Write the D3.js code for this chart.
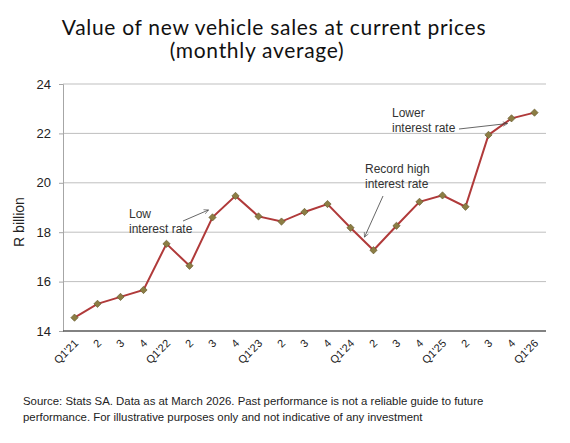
<!DOCTYPE html>
<html>
<head>
<meta charset="utf-8">
<script src="https://cdn.jsdelivr.net/npm/d3@7"></script>
<style>
  body { margin: 0; background: #fff; }
</style>
</head>
<body>
<svg id="chart"></svg>
<script>
// quarters shown on the x axis
const quarters = ["Q1'21", "2", "3", "4", "Q1'22", "2", "3", "4", "Q1'23", "2", "3", "4",
    "Q1'24", "2", "3", "4", "Q1'25", "2", "3", "4", "Q1'26"];
// monthly average sales value, R billion
const salesValue = [14.54, 15.10, 15.38, 15.66, 17.53, 16.64, 18.60, 19.47, 18.64, 18.43, 18.82, 19.14,
    18.18, 17.27, 18.26, 19.23, 19.49, 19.03, 21.94, 22.61, 22.84];
const yTicks = [14, 16, 18, 20, 22, 24];

// annotations: text lines, and the point each arrow points at
const notes = [
    {lines: ['Low', 'interest rate'], idx: 6, val: 18.9, tx: 129, ty: 218, ax: 183, ay: 221, dx: -4},
    {lines: ['Record high', 'interest rate'], idx: 13, val: 17.8, tx: 365, ty: 173, ax: 383, ay: 196, dx: -9},
    {lines: ['Lower', 'interest rate'], idx: 19, val: 22.4, tx: 392, ty: 117, ax: 459, ay: 129, dx: -4}
];

const width = 570, height = 443;
const margin = {top: 84, right: 24, bottom: 112, left: 63};

const svg = d3.select('#chart')
    .attr('width', width)
    .attr('height', height)
    .attr('font-family', 'Liberation Sans, Arial, sans-serif');

const x = d3.scalePoint()
    .domain(d3.range(quarters.length))
    .range([margin.left, width - margin.right])
    .padding(0.5);

const y = d3.scaleLinear()
    .domain([14, 24])
    .range([height - margin.bottom, margin.top]);

// title, two separate lines
svg.append('text')
    .attr('x', 274).attr('y', 35)
    .attr('text-anchor', 'middle')
    .attr('font-family', 'Lato, sans-serif')
    .attr('font-size', '21px')
    .attr('letter-spacing', '0.7px')
    .attr('fill', '#111')
    .text('Value of new vehicle sales at current prices');
svg.append('text')
    .attr('x', 257).attr('y', 58)
    .attr('text-anchor', 'middle')
    .attr('font-family', 'Lato, sans-serif')
    .attr('font-size', '21px')
    .attr('letter-spacing', '0.7px')
    .attr('fill', '#111')
    .text('(monthly average)');

// gridlines
svg.append('g')
    .selectAll('line')
    .data(yTicks.filter(d => d > 14))
    .join('line')
    .attr('x1', margin.left)
    .attr('x2', width - margin.right)
    .attr('y1', d => y(d))
    .attr('y2', d => y(d))
    .attr('stroke', '#bfbfbf')
    .attr('stroke-width', 1);

// y axis
const yAxis = svg.append('g')
    .attr('transform', `translate(${margin.left},0)`)
    .call(d3.axisLeft(y).tickValues(yTicks).tickSize(4).tickPadding(8));
yAxis.select('.domain').attr('stroke', '#a6a6a6');
yAxis.selectAll('.tick line').attr('stroke', '#a6a6a6');
yAxis.selectAll('.tick text')
    .attr('font-size', '13px')
    .attr('fill', '#222');

// x axis
const xAxis = svg.append('g')
    .attr('transform', `translate(0,${height - margin.bottom})`)
    .call(d3.axisBottom(x).tickSize(0).tickSizeOuter(0).tickFormat(i => quarters[i]));
xAxis.select('.domain')
    .attr('d', `M${margin.left},0H${width - margin.right}`)
    .attr('stroke', '#595959')
    .attr('stroke-width', 1.3);
xAxis.selectAll('.tick text')
    .attr('font-size', '11px')
    .attr('fill', '#222')
    .attr('text-anchor', 'end')
    .attr('dy', null)
    .attr('y', 0)
    .attr('transform', 'translate(4,13) rotate(-45)');

// y axis title
svg.append('text')
    .attr('transform', 'translate(24,222) rotate(-90)')
    .attr('text-anchor', 'middle')
    .attr('font-size', '14px')
    .attr('fill', '#222')
    .text('R billion');

// series line
const line = d3.line()
    .x((d, i) => x(i))
    .y(d => y(d));

svg.append('path')
    .datum(salesValue)
    .attr('d', line)
    .attr('fill', 'none')
    .attr('stroke', '#b03a3a')
    .attr('stroke-width', 2);

svg.append('g')
    .selectAll('path')
    .data(salesValue)
    .join('path')
    .attr('transform', (d, i) => `translate(${x(i)},${y(d)})`)
    .attr('d', d3.symbol(d3.symbolDiamond2, 34))
    .attr('fill', '#8c7d44')
    .attr('stroke', '#5e5428')
    .attr('stroke-width', 0.6);

// annotations
svg.append('defs').append('marker')
    .attr('id', 'arrow')
    .attr('viewBox', '0 0 10 10')
    .attr('refX', 9)
    .attr('refY', 5)
    .attr('markerWidth', 7)
    .attr('markerHeight', 7)
    .attr('orient', 'auto')
    .append('path')
    .attr('d', 'M1,1L9,5L1,9')
    .attr('fill', 'none')
    .attr('stroke', '#404040')
    .attr('stroke-width', 1);

notes.forEach(n => {
    const t = svg.append('text')
        .attr('font-size', '12px')
        .attr('fill', '#333');
    n.lines.forEach((s, k) => {
        t.append('tspan').attr('x', n.tx).attr('y', n.ty + k * 15).text(s);
    });
    svg.append('line')
        .attr('x1', n.ax)
        .attr('y1', n.ay)
        .attr('x2', x(n.idx) + n.dx)
        .attr('y2', y(n.val))
        .attr('stroke', '#404040')
        .attr('stroke-width', 0.8)
        .attr('marker-end', 'url(#arrow)');
});

// footer
const foot = svg.append('text')
    .attr('font-size', '11.4px')
    .attr('fill', '#222');
foot.append('tspan').attr('x', 23).attr('y', 405)
    .text('Source: Stats SA. Data as at March 2026. Past performance is not a reliable guide to future');
foot.append('tspan').attr('x', 23).attr('y', 421)
    .text('performance. For illustrative purposes only and not indicative of any investment');
</script>
</body>
</html>
